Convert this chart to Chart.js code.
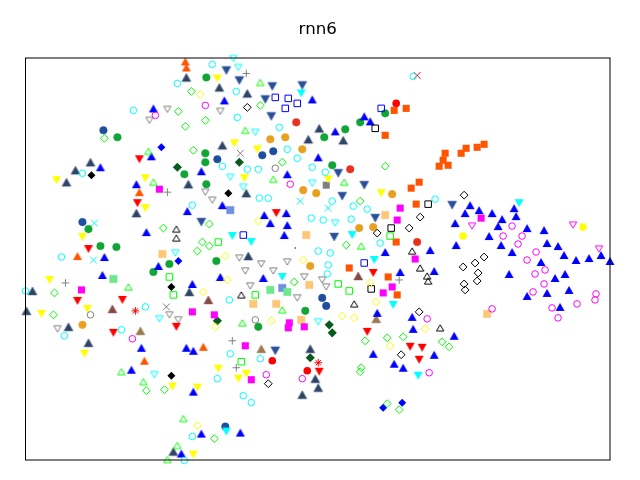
<!DOCTYPE html>
<html>
<head>
<meta charset="utf-8">
<style>
    html, body { margin: 0; padding: 0; background: #fff; }
    canvas { display: block; }
</style>
<script src="https://cdn.jsdelivr.net/npm/chart.js@4/dist/chart.umd.min.js"></script>
</head>
<body>
<canvas id="first-chart" width="640" height="480"></canvas>
<script>
const chartTitle = 'rnn6';

// values, the axes have no ticks
const blueUp = [[153,108],[151,156],[100,167],[136,184],[312,99],[224,100],[201,171],[287,174],[318,157],[364,116],[370,121],[335,131],[385,252],[430,250],[434,271],[400,272],[377,313],[412,317],[413,329],[455,223],[456,245],[465,213],[470,205],[479,210],[492,213],[514,208],[516,216],[502,219],[498,226],[527,228],[544,230],[489,236],[501,245],[547,243],[558,246],[512,252],[564,255],[601,255],[589,258],[576,260],[610,261],[541,262],[509,274],[565,274],[555,278],[569,290],[547,293],[527,296],[560,307],[146,232],[104,257],[158,266],[102,275],[222,205],[187,211],[264,215],[286,213],[270,223],[287,225],[284,235],[220,277],[263,278],[192,284],[141,348],[131,370],[186,348],[193,351],[193,392],[240,433],[201,434],[181,454],[454,336],[373,354],[434,355],[394,364],[403,368]];
const navyUp = [[90,162],[75,170],[66,182],[186,77],[219,87],[247,93],[319,128],[308,139],[222,145],[188,184],[343,140],[136,213],[32,291],[26,311],[68,327],[246,193],[248,256],[189,292],[88,343],[310,349],[315,379],[318,388],[302,395],[173,452]];
const blueDown = [[226,70],[239,80],[272,86],[302,85],[265,99],[271,116],[338,173],[364,185],[342,196],[452,205],[375,218],[334,237],[201,222],[275,351]];
const redDown = [[139,159],[137,203],[88,249],[77,301],[122,300],[276,213],[176,327],[373,273],[113,333],[319,372],[367,332],[410,347],[422,348],[419,360]];
const yellowDown = [[56,180],[145,178],[217,78],[234,143],[257,149],[244,178],[328,179],[381,193],[145,208],[82,237],[49,280],[87,309],[41,314],[84,354],[218,369],[246,374],[238,379],[172,387],[197,388],[193,455]];
const cyanDown = [[301,93],[232,236],[251,242],[282,277],[352,235],[374,260],[393,305],[519,203],[226,432],[418,376]];
const orangeUp = [[185,61],[186,67],[139,192],[77,256],[144,361],[203,347]];
const brownUp = [[112,309],[208,300],[358,276]];
const tanUp = [[376,319],[140,331],[261,349]];
const orangeSquare = [[406,108],[394,110],[385,135],[445,153],[461,153],[466,148],[477,147],[484,144],[443,160],[439,166],[448,165],[419,182],[411,188],[416,204],[396,242],[349,268],[388,277],[397,295]];
const magentaSquare = [[159,189],[400,208],[397,220],[415,259],[392,287],[383,293],[481,218],[81,290],[192,312],[214,315],[289,323],[288,328],[304,327],[245,346],[251,380]];
const lightOrangeSquare = [[385,215],[487,314],[162,254],[306,235],[309,285],[253,304],[276,304],[301,320]];
const lightGreenSquare = [[113,279],[270,290],[287,292]];
const lightBlueSquare = [[230,210],[282,288]];
const graySquare = [[326,185]];
const greenCircle = [[117,137],[206,77],[205,153],[205,162],[184,174],[206,184],[385,113],[360,122],[345,129],[324,137],[332,165],[88,229],[100,246],[116,247],[169,264],[153,272],[216,261],[305,311],[258,327]];
const navyCircle = [[103,130],[273,151],[262,155],[217,159],[322,298],[326,306],[82,222],[225,427]];
const orangeCircle = [[270,139],[285,137],[302,149],[303,190],[316,193],[392,194],[359,228],[373,227],[310,266],[82,325]];
const redCircle = [[296,122],[350,169],[417,242]];
const pureRedCircle = [[396,103],[272,361],[307,371]];
const yellowCircle = [[583,227],[463,236]];
const cyanCircle = [[133,110],[82,173],[212,64],[177,83],[236,91],[237,117],[279,127],[287,149],[297,158],[222,166],[247,169],[258,169],[312,167],[325,172],[413,76],[435,199],[332,201],[353,206],[367,209],[323,220],[351,219],[380,243],[330,253],[328,265],[327,274],[61,257],[25,291],[145,307],[121,330],[64,336],[259,198],[268,198],[192,205],[311,218],[318,251],[229,300],[230,354],[260,359],[217,379],[243,396],[251,403],[192,437],[184,461]];
const magentaCircle = [[155,115],[205,105],[290,184],[427,319],[512,226],[503,236],[522,236],[518,244],[536,252],[527,260],[545,270],[535,274],[544,284],[533,292],[596,294],[595,300],[577,304],[552,308],[558,318],[492,309],[132,339],[266,375],[302,379],[429,373]];
const grayCircle = [[275,168],[90,315],[255,320]];
const limeDiamond = [[104,138],[191,91],[260,105],[178,111],[205,120],[185,126],[193,150],[282,162],[385,166],[360,201],[346,245],[163,228],[54,293],[53,315],[209,224],[202,242],[209,246],[197,251],[294,282],[146,391],[164,390],[214,439],[365,341],[387,338],[403,337],[442,342],[449,347],[361,368],[360,372],[387,404],[399,410]];
const yellowDiamond = [[200,94],[370,283],[376,302],[342,316],[354,318],[425,329],[258,221],[225,256],[303,260],[227,280],[203,292],[271,321],[215,327],[197,426],[390,346]];
const blackDiamond = [[247,107],[464,195],[420,217],[409,228],[377,233],[463,267],[464,284],[465,290],[419,312],[484,257],[475,263],[478,273],[477,281],[268,384],[401,355]];
const blackFilledDiamond = [[91,175],[228,193],[171,287],[171,376]];
const blueFilledDiamond = [[161,147],[178,261],[383,408],[402,403]];
const darkGreenDiamond = [[239,162],[177,167],[329,325],[217,321],[310,358],[332,333]];
const limeUp = [[148,151],[153,182],[260,82],[245,130],[273,179],[344,182],[361,246],[128,287],[282,310],[242,323],[121,372],[143,382],[167,460],[183,419],[177,446]];
const blackUp = [[412,251],[420,268],[427,276],[428,281],[354,304],[440,328],[176,229],[176,238],[241,295]];
const cyanDownOpen = [[233,58],[238,67],[255,132],[230,177],[312,183],[243,187],[335,223],[159,319],[175,253],[318,322],[154,375]];
const grayDown = [[167,109],[149,120],[220,111],[322,280],[326,287],[169,315],[57,329],[205,192],[212,200],[239,258],[261,264],[287,262],[245,271],[273,271],[304,277],[250,286],[297,298],[178,320]];
const magentaDown = [[472,226],[573,225],[599,249]];
const blueSquareOpen = [[275,97],[288,98],[297,103],[285,108],[381,108],[364,263],[243,235]];
const blackSquareOpen = [[375,128],[428,204],[391,228],[371,289]];
const limeSquareOpen = [[390,236],[338,284],[349,291],[169,277],[218,242],[173,295],[255,295],[241,362]];
const grayPlus = [[246,73],[167,192],[399,280],[65,283],[232,341],[236,368]];
const grayCross = [[240,153],[166,307]];
const cyanCross = [[328,208],[94,223],[93,260],[300,201]];
const redCross = [[417,75]];
const redStar = [[135,311],[318,363]];
const navyDot = [[295,248]];

const datasets = [];

function addSeries(data, pointStyle, color, radius, open, edge) {
    datasets.push({
        data: data,
        pointStyle: pointStyle,
        pointRadius: radius,
        pointHoverRadius: radius,
        backgroundColor: open ? 'rgba(0,0,0,0)' : color,
        borderColor: open ? color : (edge || color),
        borderWidth: open ? 1 : (edge ? 1 : 0),
        showLine: false,
        clip: false
    });
}

// chart.js centres its triangle on the circle, these markers are centred on their box
function triangleImage(color, w, h, down, open, edge) {
    const img = document.createElement('canvas');
    img.width = 14;
    img.height = 14;
    const c = img.getContext('2d');
    const tip = down ? 7 + h / 2 : 7 - h / 2;
    const base = down ? 7 - h / 2 : 7 + h / 2;
    c.beginPath();
    c.moveTo(7, tip);
    c.lineTo(7 + w / 2, base);
    c.lineTo(7 - w / 2, base);
    c.closePath();
    if (open) {
        c.strokeStyle = color;
        c.lineWidth = 1;
        c.stroke();
    } else {
        c.fillStyle = color;
        c.fill();
        if (edge) {
            c.strokeStyle = edge;
            c.lineWidth = 1;
            c.stroke();
        }
    }
    return img;
}

function addTriangles(data, color, w, h, down, open, edge) {
    addSeries(data, triangleImage(color, w, h, down, open, edge), color, 7, open);
}

addSeries(cyanCircle, 'circle', '#00ffff', 3.3, true);
addSeries(magentaCircle, 'circle', '#ff00ff', 3.3, true);
addSeries(grayCircle, 'circle', '#808080', 3.3, true);
addSeries(limeDiamond, 'rectRot', '#00ff00', 3.9, true);
addSeries(yellowDiamond, 'rectRot', '#ffff00', 3.9, true);
addSeries(blackDiamond, 'rectRot', '#000000', 3.9, true);
addTriangles(limeUp, '#00ff00', 7.4, 6.2, false, true);
addTriangles(blackUp, '#000000', 7.4, 6.2, false, true);
addTriangles(cyanDownOpen, '#00ffff', 7.4, 6.2, true, true);
addTriangles(grayDown, '#808080', 7.4, 6.2, true, true);
addTriangles(magentaDown, '#ff00ff', 7.4, 6.2, true, true);
addSeries(blueSquareOpen, 'rect', '#0000ff', 4.6, true);
addSeries(blackSquareOpen, 'rect', '#000000', 4.6, true);
addSeries(limeSquareOpen, 'rect', '#00ff00', 4.6, true);
addTriangles(blueUp, '#0000ff', 9, 8, false);
addTriangles(navyUp, '#2f4566', 9, 8, false, false, 'rgba(47,69,102,0.45)');
addTriangles(blueDown, '#2a4f9a', 9, 8, true, false, 'rgba(42,79,154,0.45)');
addTriangles(redDown, '#ff0000', 9, 8, true);
addTriangles(yellowDown, '#ffff00', 9, 8, true);
addTriangles(cyanDown, '#00ffff', 9, 8, true);
addTriangles(orangeUp, '#ff5500', 9, 8, false);
addTriangles(brownUp, '#854a45', 9, 8, false, false, 'rgba(133,74,69,0.45)');
addTriangles(tanUp, '#9a7b50', 9, 8, false, false, 'rgba(154,123,80,0.45)');
addSeries(orangeSquare, 'rect', '#ff5500', 5);
addSeries(magentaSquare, 'rect', '#ff00ff', 5);
addSeries(lightOrangeSquare, 'rect', '#fcc878', 5.2, false, 'rgba(252,200,120,0.5)');
addSeries(lightGreenSquare, 'rect', '#6ee88c', 5.2, false, 'rgba(110,232,140,0.5)');
addSeries(lightBlueSquare, 'rect', '#7090e0', 5.2, false, 'rgba(112,144,224,0.5)');
addSeries(graySquare, 'rect', '#808080', 5);
addSeries(greenCircle, 'circle', '#10a535', 3.8, false, 'rgba(16,165,53,0.45)');
addSeries(navyCircle, 'circle', '#1f4e9e', 3.8, false, 'rgba(31,78,158,0.45)');
addSeries(orangeCircle, 'circle', '#e8a020', 3.8, false, 'rgba(232,160,32,0.45)');
addSeries(redCircle, 'circle', '#e8301c', 3.8, false, 'rgba(232,48,28,0.45)');
addSeries(pureRedCircle, 'circle', '#ff0000', 3.8);
addSeries(yellowCircle, 'circle', '#ffff00', 3.8);
addSeries(blackFilledDiamond, 'rectRot', '#000000', 4);
addSeries(blueFilledDiamond, 'rectRot', '#0000ff', 4);
addSeries(darkGreenDiamond, 'rectRot', '#0a5a1e', 4.6);
addSeries(grayPlus, 'cross', '#808080', 3.8, true);
addSeries(grayCross, 'crossRot', '#808080', 4.8, true);
addSeries(cyanCross, 'crossRot', '#00ffff', 4.8, true);
addSeries(redCross, 'crossRot', '#ff0000', 4.8, true);
addSeries(redStar, 'star', '#ff0000', 3.8, true);
addSeries(navyDot, 'circle', '#2a2a80', 0.8);

const axesFrame = {
    id: 'axesFrame',
    afterDatasetsDraw(chart) {
        const area = chart.chartArea;
        const c = chart.ctx;
        c.save();
        c.strokeStyle = '#000';
        c.lineWidth = 1;
        c.strokeRect(area.left, area.top, area.right - area.left, area.bottom - area.top);
        c.restore();
    }
};

const ctx = document.getElementById('first-chart').getContext('2d');
const myChart = new Chart(ctx, {
    type: 'scatter',
    data: { datasets: datasets },
    options: {
        responsive: false,
        animation: false,
        layout: {
            padding: { left: 25.5, right: 30, top: 0, bottom: 20 }
        },
        scales: {
            x: { display: false, min: 25, max: 610 },
            y: { display: false, reverse: true, min: 57.5, max: 460.5 }
        },
        plugins: {
            legend: { display: false },
            tooltip: { enabled: false },
            title: {
                display: true,
                text: chartTitle,
                color: '#000',
                font: { family: 'DejaVu Sans', size: 16.67, weight: 'normal' },
                padding: { top: 20, bottom: 18 }
            }
        }
    },
    plugins: [axesFrame]
});
</script>
</body>
</html>
